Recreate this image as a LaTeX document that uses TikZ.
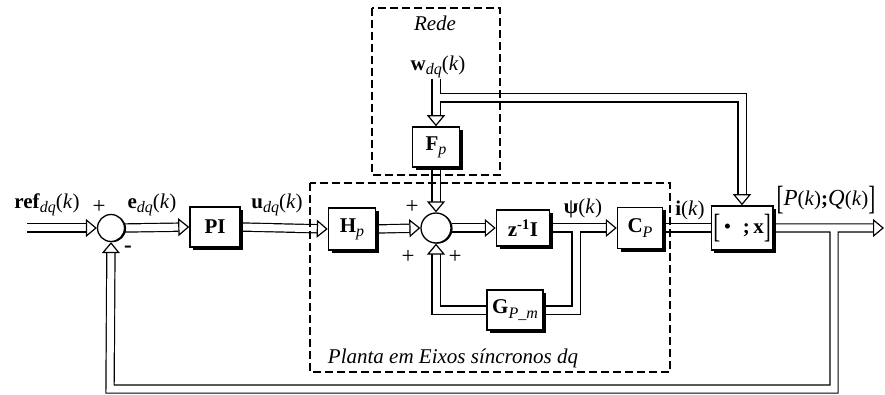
\documentclass[tikz,border=0pt]{standalone}
\usepackage{fontspec}
\usepackage{graphicx}
\setmainfont{Liberation Serif}
\usetikzlibrary{arrows.meta,shadows,backgrounds}

\newcommand{\lsub}[1]{\raisebox{-0.45ex}{\fontsize{16}{16}\selectfont\itshape #1}}
\newcommand{\tallbr}[1]{\raisebox{-0.42ex}{\scalebox{1}[1.6]{\fontseries{l}\selectfont #1}}}

\begin{document}
\begin{tikzpicture}[
  x=1pt,y=-1pt,
  font=\fontsize{21}{23}\selectfont,
  blk/.style={draw,line width=1.5pt,fill=white,inner sep=2pt,
              drop shadow={shadow xshift=3pt,shadow yshift=-3pt,fill=black,opacity=1}},
  summ/.style={circle,draw,line width=1.3pt,fill=white,minimum size=#1,inner sep=0pt,
               drop shadow={shadow xshift=1.6pt,shadow yshift=-.6pt,fill=black,opacity=1}},
  sig/.style={inner sep=1pt},
  sgn/.style={font=\fontsize{23}{23}\selectfont,inner sep=0pt},
  zone/.style={line width=2.2pt,dash pattern=on 8pt off 4pt},
  flow/.style={double=white,double distance=7pt,line width=1.2pt,line join=miter},
  arr/.style={-{Triangle[open,fill=white,length=11pt,width=18pt,line width=1.2pt]}},
  arrb/.style={{Triangle[open,fill=white,length=11pt,width=18pt,line width=1.2pt]}-%
               {Triangle[open,fill=white,length=11pt,width=18pt,line width=1.2pt]}}
]
\useasboundingbox (0,0) rectangle (885,395);

% blocks
\node[summ=27pt] (sum1) at (111,228) {};
\node[blk,minimum width=50pt,minimum height=40pt] (pi) at (215,227) {\textbf{PI}};
\node[blk,minimum width=47pt,minimum height=42pt] (hp) at (352,229) {\textbf{H}\lsub{p}};
\node[summ=30pt] (sum2) at (436,228) {};
\node[blk,minimum width=53pt,minimum height=36pt] (zi) at (523,228)
  {\textbf{z}\textsuperscript{\bfseries -1}\textbf{I}};
\node[blk,minimum width=45pt,minimum height=41pt] (cp) at (640,228) {\textbf{C}\lsub{P}};
\node[blk,minimum width=60pt,minimum height=44pt] (xb) at (742,228)
  {\tallbr{[}\,\textbullet\;\;\textbf{;\,x}\tallbr{]}};
\node[blk,minimum width=47pt,minimum height=40pt] (fp) at (436,147) {\textbf{F}\lsub{p}};
\node[blk,minimum width=56pt,minimum height=40pt] (gp) at (515,310) {\textbf{G}\lsub{P\_m}};

% signals
\node[sig] (wdq) at (438,67) {\textbf{w}\lsub{dq}(\textit{k})};
\node[sig] (lref) at (47,205) {\textbf{ref}\lsub{dq}(\textit{k})};
\node[sig] (le) at (152,205) {\textbf{e}\lsub{dq}(\textit{k})};
\node[sig] (lu) at (277,205) {\textbf{u}\lsub{dq}(\textit{k})};
\node[sig] (lpsi) at (583,208) {\textbf{ψ}(\textit{k})};
\node[sig] (li) at (690,210) {\textbf{i}(\textit{k})};
\node[sig] (lpq) at (826,200)
  {\tallbr{[}{\fontsize{23}{23}\selectfont\textit{P}}(\textit{k})\textbf{;}%
   {\fontsize{23}{23}\selectfont\textit{Q}}(\textit{k})\tallbr{]}};
\node[sgn] (p1) at (99,207) {+};
\node[sgn] (m1) at (128,249) {\textbf{-}};
\node[sgn] (p2) at (412,207) {+};
\node[sgn] (p3) at (408,257) {+};
\node[sgn] (p4) at (455,257) {+};
\node (rede) at (435,23) {\textit{Rede}};
\node (planta) at (453,358) {\textit{Planta em Eixos síncronos dq}};

\coordinate (inp) at (27,228);
\coordinate (outend) at (884,228);
\coordinate (outtap) at (834,228);
\coordinate (fbl) at (110,389);
\coordinate (psitap) at (576,228);
\coordinate (wtap) at (436,98);

% the tips go on the last piece of each path
\begin{scope}[on background layer]
  \draw[flow,arr] (inp) -- (sum1.west);
  \draw[flow,arr] (sum1.east) -- (pi.west);
  \draw[flow,arr] (pi.east) -- (hp.west);
  \draw[flow,arr] (hp.east) -- (sum2.west);
  \draw[flow,arr] (sum2.east) -- (zi.west);
  \draw[flow,arr] (psitap) |- (gp.east) (zi.east) -- (cp.west);
  \draw[flow,arr] (gp.west) -| (sum2.south);
  \draw[flow,arr] (fp.south) -- (sum2.north);
  \draw[flow,arrb] (wtap) -- (fp.north |- wdq.south) (fp.north) -- (wtap) -| (xb.north);
  \draw[flow] (cp.east) -- (xb.west);
  \draw[flow,arrb] (xb.east) -- (outtap) (outend) -- (outtap) |- (fbl) -- (sum1.south);
  \draw[zone] (372,8) rectangle (500,175);
  \draw[zone] (310,183) rectangle (670,372);
\end{scope}
\end{tikzpicture}
\end{document}
